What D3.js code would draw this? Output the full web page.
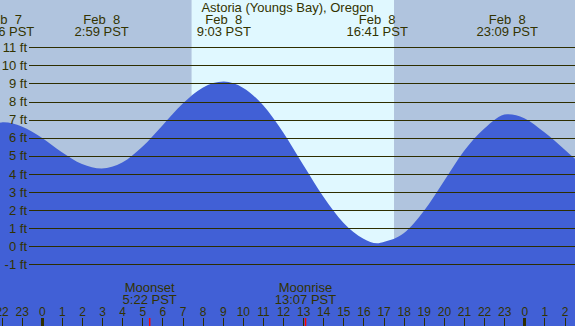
<!DOCTYPE html>
<html>
<head>
<meta charset="utf-8">
<script src="https://cdn.jsdelivr.net/npm/d3@7"></script>
<style>
body { margin: 0; overflow: hidden; background: #fff; }
text { font-family: "Liberation Sans", Arial, sans-serif; fill: #333300; }
</style>
</head>
<body>
<div id="tidechart"></div>
<script>

var title = "Astoria (Youngs Bay), Oregon";

// tide height, hours from Feb 8 00:00 PST
var tideHours = [-3, -2, -1.9, -1, 0, 1, 2, 2.98, 4, 5, 6, 7, 8, 9.05, 10, 11, 12, 13, 14, 15, 16, 16.68, 17, 18, 19, 20, 21, 22, 23.15, 24, 25, 26, 27];
var tideFeet  = [6.5, 6.84, 6.85, 6.62, 6.0, 5.2, 4.55, 4.3, 4.63, 5.5, 6.68, 7.87, 8.76, 9.1, 8.76, 7.8, 6.3, 4.5, 2.75, 1.3, 0.42, 0.17, 0.24, 0.72, 1.95, 3.6, 5.27, 6.5, 7.3, 7.08, 6.3, 5.35, 4.35];

// highs and lows labelled along the top
var eventHours = [-1.9, 2.98, 9.05, 16.68, 23.15];
var eventDates = ["Feb  7", "Feb  8", "Feb  8", "Feb  8", "Feb  8"];
var eventTimes = ["22:06 PST", "2:59 PST", "9:03 PST", "16:41 PST", "23:09 PST"];

// sunrise / sunset
var sunHours = [7.45, 17.52];

// moon
var moonHours = [5.367, 13.117];
var moonNames = ["Moonset", "Moonrise"];
var moonTimes = ["5:22 PST", "13:07 PST"];

var ftTicks = [-1, 0, 1, 2, 3, 4, 5, 6, 7, 8, 9, 10, 11];
var hourTicks  = [-2, -1, 0, 1, 2, 3, 4, 5, 6, 7, 8, 9, 10, 11, 12, 13, 14, 15, 16, 17, 18, 19, 20, 21, 22, 23, 24, 25, 26];
var hourLabels = ["22", "23", "0", "1", "2", "3", "4", "5", "6", "7", "8", "9", "10", "11", "12", "13", "14", "15", "16", "17", "18", "19", "20", "21", "22", "23", "0", "1", "2"];

var width = 575, height = 326;
var nightColor = "#b0c4de", dayColor = "#e0f8ff", waterColor = "#4160d6", lineColor = "#2e2e00";

var svg = d3.select("#tidechart")
	.append("svg")
	.attr("width", width)
	.attr("height", height);

var x = d3.scaleLinear().domain([0, 24]).range([41.8, 524.3]);
var y = d3.scaleLinear().domain([-1, 11]).range([264.4, 47.2]);

// night everywhere, then the day band on top
svg.append("rect")
	.attr("x", 0).attr("y", 0)
	.attr("width", width).attr("height", height)
	.style("fill", nightColor);

svg.append("rect")
	.attr("x", x(sunHours[0]))
	.attr("y", 0)
	.attr("width", x(sunHours[1]) - x(sunHours[0]))
	.attr("height", height)
	.style("fill", dayColor);

// water
var tideData = tideHours.map(function(h, i) { return { h: h, ft: tideFeet[i] }; });

var area = d3.area()
	.x(function(d) { return x(d.h); })
	.y0(height)
	.y1(function(d) { return y(d.ft); })
	.curve(d3.curveMonotoneX);

svg.append("path")
	.datum(tideData)
	.attr("d", area)
	.style("fill", waterColor);

// height lines + labels
var yAxis = svg.append("g")
	.attr("transform", "translate(29,0)")
	.style("color", lineColor)
	.call(d3.axisLeft(y)
		.tickValues(ftTicks)
		.tickSize(-(width - 29))
		.tickPadding(2)
		.tickFormat(function(d) { return d + " ft"; }));
yAxis.select(".domain").remove();
yAxis.selectAll(".tick line").attr("shape-rendering", "crispEdges");
yAxis.selectAll(".tick text")
	.style("font-size", "13px")
	.style("font-family", "Liberation Sans, Arial, sans-serif");

// hour ticks along the bottom
var xAxis = svg.append("g")
	.attr("transform", "translate(0," + height + ")")
	.style("color", lineColor)
	.call(d3.axisTop(x)
		.tickValues(hourTicks)
		.tickSize(8)
		.tickPadding(2)
		.tickFormat(function(d, i) { return hourLabels[i]; }));
xAxis.select(".domain").remove();
xAxis.selectAll(".tick line")
	.attr("stroke-width", function(d) { return (d % 24 == 0) ? 3 : 1; })
	.attr("shape-rendering", "crispEdges");
xAxis.selectAll(".tick text")
	.style("font-size", "12px")
	.style("font-family", "Liberation Sans, Arial, sans-serif");

// moon events
svg.selectAll(".moontick")
	.data(moonHours)
	.enter().append("line")
	.attr("class", "moontick")
	.attr("x1", function(d) { return x(d); })
	.attr("x2", function(d) { return x(d); })
	.attr("y1", height - 8)
	.attr("y2", height)
	.style("stroke", "#ff0000")
	.style("stroke-width", 1.5);

var moon = svg.selectAll(".moonlabel")
	.data(moonHours)
	.enter().append("g")
	.attr("class", "moonlabel")
	.attr("transform", function(d) { return "translate(" + x(d) + ",0)"; });
moon.append("text")
	.attr("y", 291.5)
	.attr("text-anchor", "middle")
	.style("font-size", "13px")
	.text(function(d, i) { return moonNames[i]; });
moon.append("text")
	.attr("y", 303.5)
	.attr("text-anchor", "middle")
	.style("font-size", "13px")
	.text(function(d, i) { return moonTimes[i]; });

// title and high/low labels
svg.append("text")
	.attr("x", width / 2)
	.attr("y", 12)
	.attr("text-anchor", "middle")
	.style("font-size", "13px")
	.text(title);

var ev = svg.selectAll(".event")
	.data(eventHours)
	.enter().append("g")
	.attr("class", "event")
	.attr("transform", function(d) { return "translate(" + x(d) + ",0)"; });
ev.append("text")
	.attr("y", 23.5)
	.attr("text-anchor", "middle")
	.style("font-size", "13px")
	.style("white-space", "pre")
	.text(function(d, i) { return eventDates[i]; });
ev.append("text")
	.attr("y", 35.5)
	.attr("text-anchor", "middle")
	.style("font-size", "13px")
	.text(function(d, i) { return eventTimes[i]; });

</script>
</body>
</html>
